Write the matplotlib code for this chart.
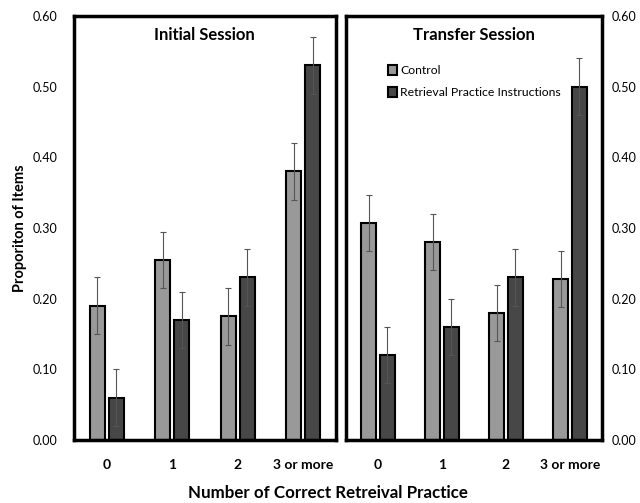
import matplotlib
matplotlib.use("Agg")
import matplotlib.pyplot as plt
import numpy as np

plt.rcParams['font.family'] = ['Lato', 'DejaVu Sans']

categories = ['0', '1', '2', '3 or more']
series_names = ['Control', 'Retrieval Practice Instructions']

# Initial session
init_control = [0.19, 0.255, 0.175, 0.38]
init_rpi = [0.06, 0.17, 0.23, 0.53]
init_control_err = [0.04, 0.04, 0.04, 0.04]
init_rpi_err = [0.04, 0.04, 0.04, 0.04]

# Transfer session
trans_control = [0.307, 0.28, 0.18, 0.228]
trans_rpi = [0.12, 0.16, 0.23, 0.50]
trans_control_err = [0.04, 0.04, 0.04, 0.04]
trans_rpi_err = [0.04, 0.04, 0.04, 0.04]

c_control = '#999999'
c_rpi = '#474747'

fig = plt.figure(figsize=(6.4, 5.03), dpi=100)
ax1 = fig.add_axes([0.1156, 0.1252, 0.409, 0.843])
ax2 = fig.add_axes([0.5406, 0.1252, 0.400, 0.843])

x = np.arange(len(categories))
w = 0.23
off = 0.145

def draw(ax, ctrl, rpi, ctrl_err, rpi_err, title):
    ax.bar(x - off, ctrl, w, color=c_control, edgecolor='black', linewidth=1.5,
           label=series_names[0], zorder=2)
    ax.bar(x + off, rpi, w, color=c_rpi, edgecolor='black', linewidth=1.5,
           label=series_names[1], zorder=2)
    ax.errorbar(x - off, ctrl, yerr=ctrl_err, fmt='none', ecolor='#555555',
                elinewidth=0.8, capsize=2, capthick=0.8, zorder=3)
    ax.errorbar(x + off, rpi, yerr=rpi_err, fmt='none', ecolor='#555555',
                elinewidth=0.8, capsize=2, capthick=0.8, zorder=3)
    ax.set_xlim(-0.5, 3.5)
    ax.set_ylim(0, 0.6)
    ax.set_yticks(np.arange(0, 0.61, 0.1))
    ax.set_yticklabels([f'{v:.2f}' for v in np.arange(0, 0.61, 0.1)])
    ax.set_xticks(x)
    ax.set_xticklabels(categories, fontweight='bold', fontsize=10)
    ax.tick_params(axis='both', length=0, labelsize=9)
    ax.tick_params(axis='x', pad=14, labelsize=10)
    ax.tick_params(axis='y', pad=12)
    for s in ax.spines.values():
        s.set_linewidth(2.5)
    ax.text(0.5, 0.975, title, transform=ax.transAxes, ha='center', va='top',
            fontsize=12, fontweight='bold')

draw(ax1, init_control, init_rpi, init_control_err, init_rpi_err, 'Initial Session')
draw(ax2, trans_control, trans_rpi, trans_control_err, trans_rpi_err, 'Transfer Session')

ax2.yaxis.tick_right()
ax2.tick_params(axis='y', pad=7)

ax1.set_ylabel('Proporiton of Items', fontsize=10.5, fontweight='bold', labelpad=4)

leg = ax2.legend(loc='upper left', bbox_to_anchor=(0.12, 0.91), frameon=False,
                 fontsize=8.8, handlelength=0.8, handleheight=0.8, handletextpad=0.2,
                 labelspacing=0.9)

fig.text(0.5125, 0.02, 'Number of Correct Retreival Practice', ha='center',
         va='center', fontsize=12.2, fontweight='bold')

fig.savefig('out.png', dpi=100)
